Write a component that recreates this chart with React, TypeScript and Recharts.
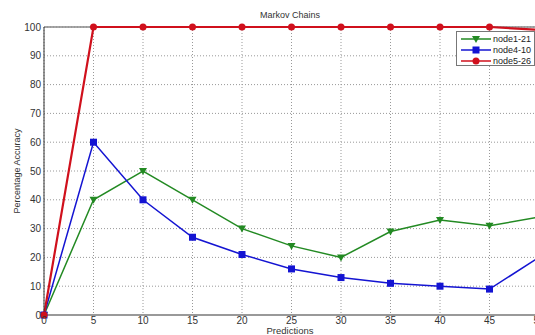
import { LineChart, Line, XAxis, YAxis, CartesianGrid, ReferenceLine } from 'recharts';

const predictions = [0, 5, 10, 15, 20, 25, 30, 35, 40, 45, 50];
const node1_21 = [0, 40, 50, 40, 30, 24, 20, 29, 33, 31, 34];
const node4_10 = [0, 60, 40, 27, 21, 16, 13, 11, 10, 9, 20];
const node5_26 = [0, 100, 100, 100, 100, 100, 100, 100, 100, 100, 99];
const yTicks = [0, 10, 20, 30, 40, 50, 60, 70, 80, 90, 100];

const data = predictions.map((p, i) => ({
  p,
  n1: node1_21[i],
  n4: node4_10[i],
  n5: node5_26[i],
}));

const GREEN = '#238a23';
const BLUE = '#1414d2';
const RED = '#d0101c';
const FONT = '"Liberation Sans", Arial, sans-serif';

const TriangleDot = (props: any) => {
  const { cx, cy, index } = props;
  if (cx == null || cy == null) return null;
  return <path key={`t${index}`} d={`M${cx - 4},${cy - 3} L${cx + 4},${cy - 3} L${cx},${cy + 4} Z`} fill={GREEN} />;
};

const SquareDot = (props: any) => {
  const { cx, cy, index } = props;
  if (cx == null || cy == null) return null;
  return <rect key={`s${index}`} x={cx - 3.5} y={cy - 3.5} width={7} height={7} fill={BLUE} />;
};

const CircleDot = (props: any) => {
  const { cx, cy, index } = props;
  if (cx == null || cy == null) return null;
  return <circle key={`c${index}`} cx={cx} cy={cy} r={3.5} fill={RED} />;
};

const legendItems = [
  { name: 'node1-21', color: GREEN, shape: 'tri' },
  { name: 'node4-10', color: BLUE, shape: 'sq' },
  { name: 'node5-26', color: RED, shape: 'circ' },
];

// legend drawn as an overlay so it does not shrink the plot area
const LegendBox = () => (
  <div
    style={{
      position: 'absolute',
      top: 31,
      left: 456,
      background: '#fff',
      border: '1px solid #777',
      width: 79,
      height: 35,
      fontFamily: FONT,
      fontSize: 9,
      color: '#222',
      boxSizing: 'border-box',
      paddingTop: 1,
      whiteSpace: 'nowrap',
    }}
  >
    {legendItems.map((it) => (
      <div key={it.name} style={{ display: 'flex', alignItems: 'center', height: 11 }}>
        <svg width={33} height={10} style={{ marginLeft: 3, flexShrink: 0 }}>
          <line x1={1} y1={5} x2={31} y2={5} stroke={it.color} strokeWidth={1.5} />
          {it.shape === 'tri' && <path d="M12,2 L20,2 L16,9 Z" fill={it.color} />}
          {it.shape === 'sq' && <rect x={12.5} y={1.5} width={7} height={7} fill={it.color} />}
          {it.shape === 'circ' && <circle cx={16} cy={5} r={3.5} fill={it.color} />}
        </svg>
        <span style={{ marginLeft: 0, lineHeight: '10px' }}>{it.name}</span>
      </div>
    ))}
  </div>
);

export default function App() {
  return (
    <div
      style={{
        position: 'fixed',
        left: 0,
        top: 0,
        width: 535,
        height: 335,
        overflow: 'hidden',
        background: '#fff',
        fontFamily: FONT,
      }}
    >
      <LineChart width={560} height={335} data={data} margin={{ top: 27, right: 21, bottom: 0, left: 0 }}>
        <CartesianGrid stroke="#999" strokeDasharray="1 2" />
        <XAxis
          dataKey="p"
          type="number"
          domain={[0, 50]}
          ticks={predictions}
          height={20}
          axisLine={{ stroke: '#999', strokeWidth: 2 }}
          tickLine={false}
          tickSize={0}
          tickMargin={2}
          tick={{ fontSize: 10, fill: '#333', fontFamily: FONT }}
          interval={0}
        />
        <YAxis
          type="number"
          domain={[0, 100]}
          ticks={yTicks}
          width={44}
          axisLine={{ stroke: '#333', strokeWidth: 1 }}
          tickLine={false}
          tickSize={0}
          tickMargin={3}
          tick={{ fontSize: 10, fill: '#333', fontFamily: FONT }}
          interval={0}
        />
        <ReferenceLine y={100} stroke="#888" strokeWidth={1.5} />
        <Line
          dataKey="n1"
          name="node1-21"
          stroke={GREEN}
          strokeWidth={1.5}
          dot={TriangleDot}
          activeDot={false}
          isAnimationActive={false}
        />
        <Line
          dataKey="n4"
          name="node4-10"
          stroke={BLUE}
          strokeWidth={1.5}
          dot={SquareDot}
          activeDot={false}
          isAnimationActive={false}
        />
        <Line
          dataKey="n5"
          name="node5-26"
          stroke={RED}
          strokeWidth={2.2}
          dot={CircleDot}
          activeDot={false}
          isAnimationActive={false}
        />
      </LineChart>
      <LegendBox />
      <div
        style={{
          position: 'absolute',
          top: 10,
          left: 240,
          width: 100,
          textAlign: 'center',
          fontSize: 9,
          color: '#333',
        }}
      >
        Markov Chains
      </div>
      <div
        style={{
          position: 'absolute',
          top: 326,
          left: 240,
          width: 100,
          textAlign: 'center',
          fontSize: 9.5,
          lineHeight: '9px',
          color: '#333',
        }}
      >
        Predictions
      </div>
      <div
        style={{
          position: 'absolute',
          top: 166,
          left: -33,
          width: 100,
          textAlign: 'center',
          fontSize: 9,
          color: '#333',
          transform: 'rotate(-90deg)',
        }}
      >
        Percentage Accuracy
      </div>
    </div>
  );
}
